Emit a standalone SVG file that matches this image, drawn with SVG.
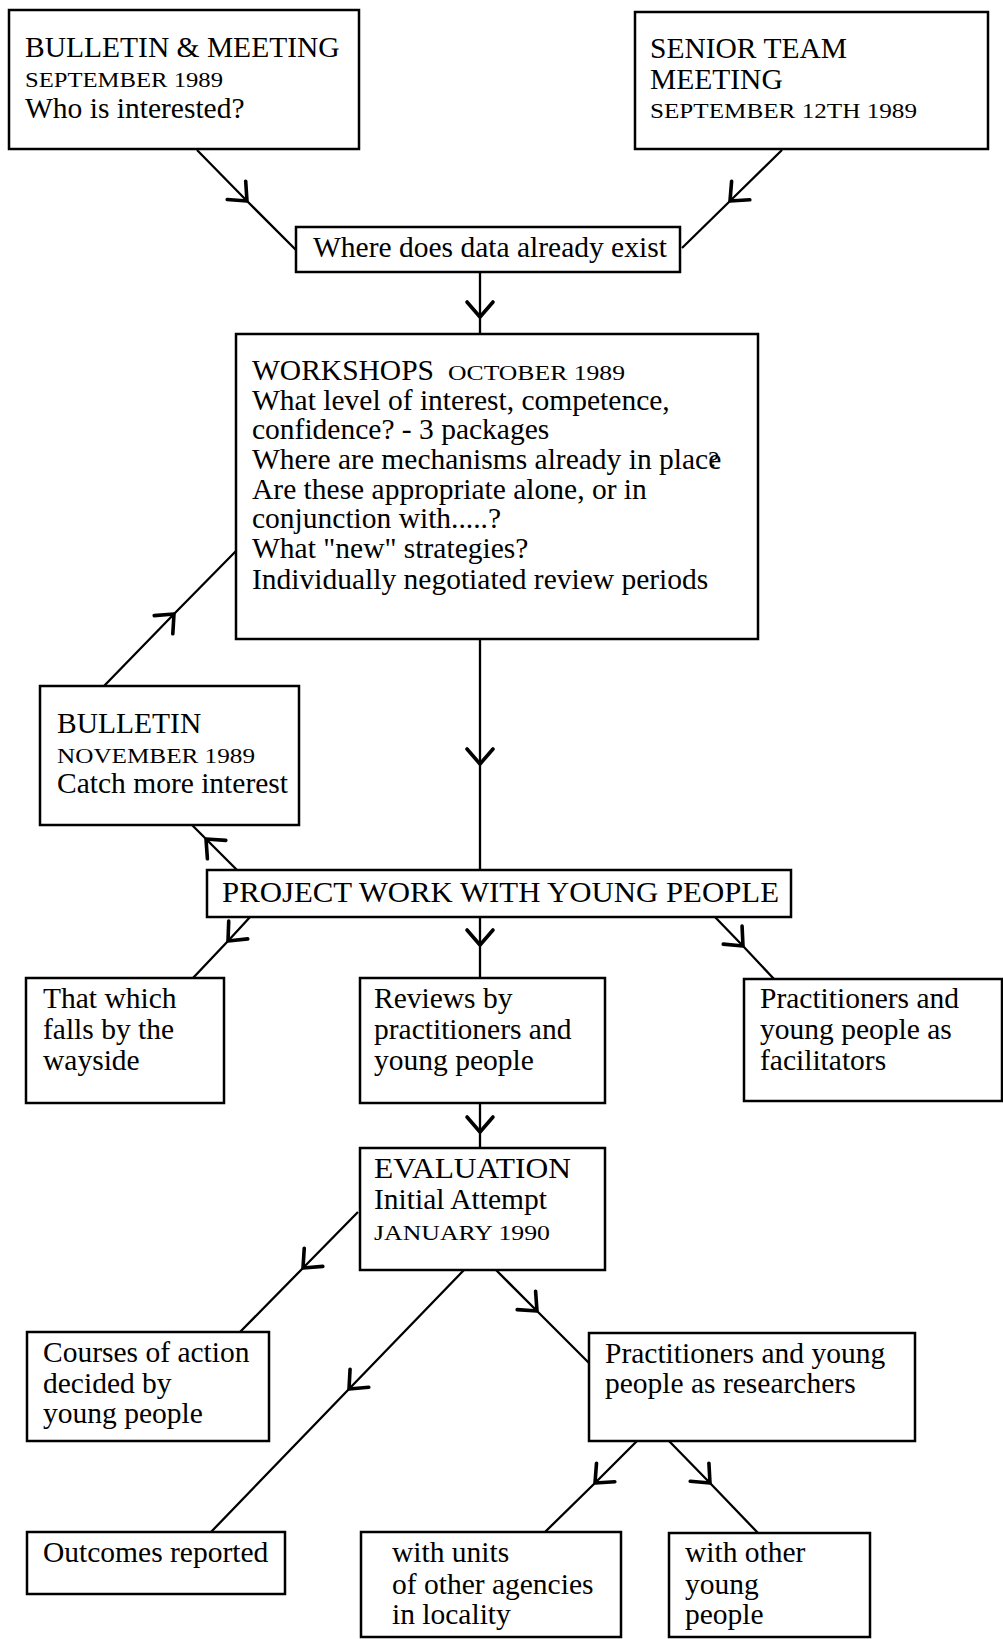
<svg xmlns="http://www.w3.org/2000/svg" width="1003" height="1639" viewBox="0 0 1003 1639">
<defs>
<style>
.box{fill:#fff;stroke:#000;stroke-width:2.5}
.t{font-family:"Liberation Serif","Times New Roman",serif;font-size:29.5px;fill:#000}
.s{font-size:21px}
.c{fill:none;stroke:#000;stroke-width:2.3;marker-mid:url(#chev)}
</style>
<marker id="chev" markerUnits="userSpaceOnUse" viewBox="-20 -16 24 32" refX="0" refY="0" markerWidth="24" markerHeight="32" orient="auto">
<path d="M-15,-13 L0,0 L-15,13" fill="none" stroke="#000" stroke-width="3.6" stroke-linecap="round" stroke-linejoin="round"/>
</marker>
</defs>
<rect width="1003" height="1639" fill="#fff"/>

<g id="connectors">
<path class="c" d="M197,150 L247,201 L296,250"/>
<path class="c" d="M782,150 L730,201 L682,248"/>
<path class="c" d="M480,272 L480,317 L480,334"/>
<path class="c" d="M480,639 L480,764 L480,870"/>
<path class="c" d="M237,870 L206,839 L192,825"/>
<path class="c" d="M104,686 L174,614 L236,551"/>
<path class="c" d="M251,916 L228,941 L193,978"/>
<path class="c" d="M480,916 L480,945 L480,978"/>
<path class="c" d="M714,916 L743,946 L774,979"/>
<path class="c" d="M480,1103 L480,1132 L480,1148"/>
<path class="c" d="M358,1212 L303,1268 L240,1332"/>
<path class="c" d="M464,1270 L349,1389 L211,1532"/>
<path class="c" d="M496,1270 L537,1311 L589,1363"/>
<path class="c" d="M637,1441 L595,1483 L545,1532"/>
<path class="c" d="M669,1441 L710,1483 L758,1533"/>
</g>

<g id="n1">
<rect class="box" x="9" y="10" width="350" height="139"/>
<text class="t" x="25" y="57">BULLETIN &amp; MEETING</text>
<text class="t s" x="25" y="87" textLength="198" lengthAdjust="spacingAndGlyphs">SEPTEMBER 1989</text>
<text class="t" x="25" y="118">Who is interested?</text>
</g>

<g id="n2">
<rect class="box" x="635" y="12" width="353" height="137"/>
<text class="t" x="650" y="58">SENIOR TEAM</text>
<text class="t" x="650" y="89">MEETING</text>
<text class="t s" x="650" y="118" textLength="267" lengthAdjust="spacingAndGlyphs">SEPTEMBER 12TH 1989</text>
</g>

<g id="n3">
<rect class="box" x="296" y="227" width="384" height="45"/>
<text class="t" x="313" y="257">Where does data already exist</text>
</g>

<g id="n4">
<rect class="box" x="236" y="334" width="522" height="305"/>
<text class="t" x="252" y="380">WORKSHOPS</text>
<text class="t s" x="448" y="380" textLength="177" lengthAdjust="spacingAndGlyphs">OCTOBER 1989</text>
<text class="t" x="252" y="410">What level of interest, competence,</text>
<text class="t" x="252" y="439">confidence? - 3 packages</text>
<text class="t" x="252" y="469">Where are mechanisms already in place<tspan dx="-13" dy="-2" font-size="24">?</tspan></text>
<text class="t" x="252" y="499">Are these appropriate alone, or in</text>
<text class="t" x="252" y="528">conjunction with.....?</text>
<text class="t" x="252" y="558">What "new" strategies?</text>
<text class="t" x="252" y="589">Individually negotiated review periods</text>
</g>

<g id="n5">
<rect class="box" x="40" y="686" width="259" height="139"/>
<text class="t" x="57" y="733">BULLETIN</text>
<text class="t s" x="57" y="763" textLength="198" lengthAdjust="spacingAndGlyphs">NOVEMBER 1989</text>
<text class="t" x="57" y="793">Catch more interest</text>
</g>

<g id="n6">
<rect class="box" x="207" y="870" width="584" height="47"/>
<text class="t" x="222" y="902" textLength="557" lengthAdjust="spacingAndGlyphs">PROJECT WORK WITH YOUNG PEOPLE</text>
</g>

<g id="n7">
<rect class="box" x="26" y="978" width="198" height="125"/>
<text class="t" x="43" y="1008">That which</text>
<text class="t" x="43" y="1039">falls by the</text>
<text class="t" x="43" y="1070">wayside</text>
</g>

<g id="n8">
<rect class="box" x="360" y="978" width="245" height="125"/>
<text class="t" x="374" y="1008">Reviews by</text>
<text class="t" x="374" y="1039">practitioners and</text>
<text class="t" x="374" y="1070">young people</text>
</g>

<g id="n9">
<rect class="box" x="744" y="979" width="258" height="122"/>
<text class="t" x="760" y="1008">Practitioners and</text>
<text class="t" x="760" y="1039">young people as</text>
<text class="t" x="760" y="1070">facilitators</text>
</g>

<g id="n10">
<rect class="box" x="360" y="1148" width="245" height="122"/>
<text class="t" x="374" y="1178" textLength="197" lengthAdjust="spacingAndGlyphs">EVALUATION</text>
<text class="t" x="374" y="1209">Initial Attempt</text>
<text class="t s" x="374" y="1240" textLength="176" lengthAdjust="spacingAndGlyphs">JANUARY 1990</text>
</g>

<g id="n11">
<rect class="box" x="27" y="1332" width="242" height="109"/>
<text class="t" x="43" y="1362">Courses of action</text>
<text class="t" x="43" y="1393">decided by</text>
<text class="t" x="43" y="1423">young people</text>
</g>

<g id="n12">
<rect class="box" x="589" y="1333" width="326" height="108"/>
<text class="t" x="605" y="1363">Practitioners and young</text>
<text class="t" x="605" y="1393">people as researchers</text>
</g>

<g id="n13">
<rect class="box" x="27" y="1532" width="258" height="62"/>
<text class="t" x="43" y="1562">Outcomes reported</text>
</g>

<g id="n14">
<rect class="box" x="361" y="1532" width="260" height="105"/>
<text class="t" x="392" y="1562">with units</text>
<text class="t" x="392" y="1594">of other agencies</text>
<text class="t" x="392" y="1624">in locality</text>
</g>

<g id="n15">
<rect class="box" x="669" y="1533" width="201" height="104"/>
<text class="t" x="685" y="1562">with other</text>
<text class="t" x="685" y="1594">young</text>
<text class="t" x="685" y="1624">people</text>
</g>
</svg>
